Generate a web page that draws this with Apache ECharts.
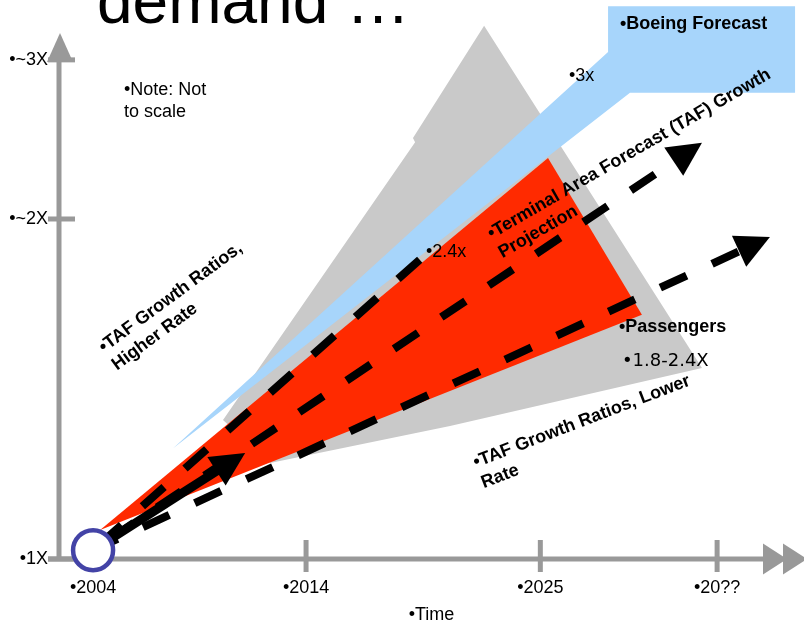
<!DOCTYPE html>
<html>
<head>
<meta charset="utf-8">
<title>Growth in demand</title>
<script src="https://cdn.jsdelivr.net/npm/echarts@6.0.0/dist/echarts.min.js"></script>
<style>
  html, body { margin: 0; padding: 0; background: #fff; }
  #chart { width: 804px; height: 629px; }
</style>
</head>
<body>
<div id="chart"></div>
<script>
// axis ticks: time in years, demand as a multiple of 2004
const xTickYears = [2004, 2014, 2025, 2033.3];
const xTickLabels = ["•2004", "•2014", "•2025", "•20??"];
const yTickMults = [1, 2, 2.468];
const yTickLabels = ["•1X", "•~2X", "•~3X"];

// shaded forecast ranges (outline points, year / multiple)
const grayYears = [2010.1, 2019.12, 2019.02, 2022.36, 2032.59, 2020.76, 2012.31];
const grayMults = [1.409, 2.226, 2.238, 2.568, 1.562, 1.391, 1.282];
const blueYears = [2007.76, 2028.18, 2028.18, 2036.96, 2036.96, 2029.21];
const blueMults = [1.326, 2.491, 2.626, 2.626, 2.371, 2.371];
const redYears = [2004.33, 2025.36, 2029.77];
const redMults = [1.085, 2.179, 1.718];

// growth trends, all starting at 2004
const startYear = 2004;
const startMult = 1.026;
const trendEndYears = [2019.59, 2032.59, 2035.78, 2011.14];
const trendEndMults = [1.894, 2.224, 1.947, 1.312];
const trendDashed = [1, 1, 1, 0];
const trendArrow = [0, 1, 1, 1];

const xMin = 2002.4, xMax = 2037.38;
const yMin = 1, yMax = 2.547;

const FONT = "'Liberation Sans', Arial, sans-serif";
const AXIS = "#999999";
const dashOffsets = [48, 37, 2, 0]; // dash phase per trend line

const chart = echarts.init(document.getElementById("chart"));

function area(name, xs, ys, color, z) {
  return {
    name: name,
    type: "custom",
    z: z,
    silent: true,
    data: xs.map((x, i) => [x, ys[i]]),
    renderItem: (params, api) => {
      if (params.dataIndex !== 0) return;
      const pts = xs.map((x, i) => api.coord([x, ys[i]]));
      return { type: "polygon", shape: { points: pts }, style: { fill: color } };
    },
  };
}

function label(text, x, y, opts) {
  opts = opts || {};
  return {
    type: "text",
    z: 100,
    x: x,
    y: y,
    rotation: ((opts.angle || 0) * Math.PI) / 180,
    style: {
      text: text,
      x: 0,
      y: opts.lines ? -11 : 0,
      fill: "#000",
      font: (opts.bold ? "bold " : "") + (opts.size || 18) + "px " + (opts.family || FONT),
      align: "left",
      verticalAlign: opts.lines ? "top" : "middle",
      lineHeight: 22,
    },
  };
}

chart.setOption({
  animation: false,
  grid: { left: 59, right: 0, top: 33, bottom: 70 },
  xAxis: {
    type: "value",
    min: xMin,
    max: xMax,
    axisLine: { show: false },
    axisTick: { show: false },
    splitLine: { show: false },
    axisLabel: {
      customValues: xTickYears,
      formatter: (v) => { const i = xTickYears.indexOf(v); return i < 0 ? "" : xTickLabels[i]; },
      margin: 20,
      color: "#000",
      fontSize: 18,
      fontFamily: FONT,
    },
    name: "•Time",
    nameLocation: "middle",
    nameGap: 47,
    nameTextStyle: { color: "#000", fontSize: 18, fontFamily: FONT },
  },
  yAxis: {
    type: "value",
    min: yMin,
    max: yMax,
    axisLine: { show: false },
    axisTick: { show: false },
    splitLine: { show: false },
    axisLabel: {
      customValues: yTickMults,
      formatter: (v) => { const i = yTickMults.indexOf(v); return i < 0 ? "" : yTickLabels[i]; },
      margin: 11,
      color: "#000",
      fontSize: 18,
      fontFamily: FONT,
    },
  },
  graphic: [
    label("demand …", 97, 5, { size: 64 }),
    label("•Note: Not\nto scale", 124, 90, { lines: true }),
    label("•Boeing Forecast", 620, 24, { bold: true }),
    label("•3x", 569, 76),
    label("•2.4x", 426, 252),
    label("•Passengers", 619, 327, { bold: true }),
    label("•1.8-2.4X", 622, 361, { family: "'DejaVu Sans', sans-serif" }),
    label("•Terminal Area Forecast (TAF) Growth\nProjection", 489, 235, { bold: true, lines: true, angle: 30 }),
    label("•TAF Growth Ratios,\nHigher Rate", 101, 349, { bold: true, lines: true, angle: 36.4 }),
    label("•TAF Growth Ratios, Lower\nRate", 474, 463, { bold: true, lines: true, angle: 21 }),
  ],
  series: [
    // axis frame with arrowheads
    {
      type: "custom",
      z: 1,
      silent: true,
      data: [[xMin, yMin]],
      renderItem: (params, api) => {
        const o = api.coord([xMin, yMin]);
        const top = api.coord([xMin, yMax]);
        const right = api.coord([xMax, yMin]);
        const x = o[0], y = o[1];
        const ls = { stroke: AXIS, lineWidth: 5 };
        return {
          type: "group",
          children: [
            { type: "line", shape: { x1: x, y1: y, x2: x, y2: top[1] + 27 }, style: ls },
            { type: "polygon", shape: { points: [[x + 1, top[1]], [x - 12, top[1] + 29], [x + 14, top[1] + 29]] }, style: { fill: AXIS } },
            { type: "line", shape: { x1: x - 11, y1: y, x2: right[0] - 40, y2: y }, style: ls },
            { type: "polygon", shape: { points: [[right[0] - 41, y - 15.5], [right[0] - 17, y], [right[0] - 41, y + 15.5]] }, style: { fill: AXIS } },
            { type: "polygon", shape: { points: [[right[0] - 21, y - 15.5], [right[0] + 3, y], [right[0] - 21, y + 15.5]] }, style: { fill: AXIS } },
          ],
        };
      },
    },
    // x ticks
    {
      type: "custom",
      z: 1,
      silent: true,
      data: xTickYears.map((v) => [v, yMin]),
      renderItem: (params, api) => {
        const p = api.coord([api.value(0), api.value(1)]);
        return { type: "line", shape: { x1: p[0], y1: p[1] - 19, x2: p[0], y2: p[1] + 13 }, style: { stroke: AXIS, lineWidth: 5 } };
      },
    },
    // y ticks
    {
      type: "custom",
      z: 1,
      silent: true,
      data: yTickMults.map((v) => [xMin, v]),
      renderItem: (params, api) => {
        const p = api.coord([api.value(0), api.value(1)]);
        return { type: "line", shape: { x1: p[0] - 11, y1: p[1], x2: p[0] + 16, y2: p[1] }, style: { stroke: AXIS, lineWidth: 5 } };
      },
    },
    area("Passengers range", grayYears, grayMults, "#c9c9c9", 2),
    area("Boeing Forecast", blueYears, blueMults, "#a7d5fb", 3),
    area("TAF Projection", redYears, redMults, "#ff2a00", 4),
    // trend lines
    {
      type: "custom",
      z: 5,
      silent: true,
      data: trendEndYears.map((x, i) => [startYear, startMult, x, trendEndMults[i], trendDashed[i], trendArrow[i]]),
      encode: { x: [0, 2], y: [1, 3] },
      renderItem: (params, api) => {
        const p0 = api.coord([api.value(0), api.value(1)]);
        const p1 = api.coord([api.value(2), api.value(3)]);
        const dashed = api.value(4) === 1;
        const arrow = api.value(5) === 1;
        const dx = p1[0] - p0[0], dy = p1[1] - p0[1];
        const len = Math.hypot(dx, dy);
        const ux = dx / len, uy = dy / len;
        const head = 34, half = 17;
        const end = arrow ? [p1[0] - ux * (head - 4), p1[1] - uy * (head - 4)] : p1;
        const children = [{
          type: "line",
          shape: { x1: p0[0], y1: p0[1], x2: end[0], y2: end[1] },
          style: {
            stroke: "#000",
            lineWidth: dashed ? 8 : 9,
            lineDash: dashed ? [29, 28] : null,
            lineDashOffset: dashOffsets[params.dataIndex],
            lineCap: "butt",
          },
        }];
        if (arrow) {
          const bx = p1[0] - ux * head, by = p1[1] - uy * head;
          children.push({
            type: "polygon",
            shape: { points: [p1, [bx - uy * half, by + ux * half], [bx + uy * half, by - ux * half]] },
            style: { fill: "#000" },
          });
        }
        return { type: "group", children: children };
      },
    },
    // 2004 starting point
    {
      type: "custom",
      z: 6,
      silent: true,
      data: [[startYear, startMult]],
      renderItem: (params, api) => {
        const p = api.coord([api.value(0), api.value(1)]);
        return { type: "circle", shape: { cx: p[0], cy: p[1], r: 20 }, style: { fill: "#fff", stroke: "#4343a6", lineWidth: 4.5 } };
      },
    },
  ],
});

window.addEventListener("resize", chart.resize);
</script>
</body>
</html>
